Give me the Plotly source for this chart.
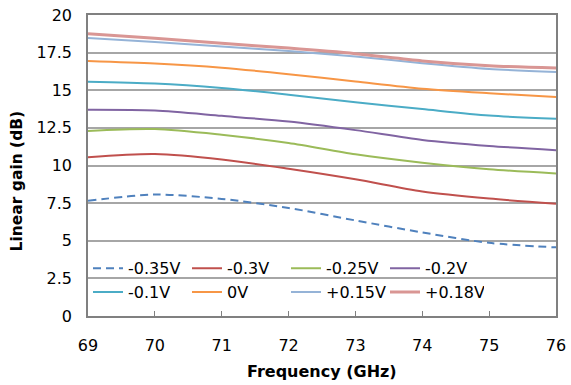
import plotly.graph_objects as go

freq = [69, 70, 71, 72, 73, 74, 75, 76]

g_m035 = [7.65, 8.07, 7.78, 7.18, 6.35, 5.55, 4.86, 4.56]
g_m030 = [10.55, 10.76, 10.40, 9.78, 9.08, 8.27, 7.80, 7.46]
g_m025 = [12.30, 12.42, 12.04, 11.50, 10.75, 10.19, 9.75, 9.47]
g_m020 = [13.70, 13.65, 13.30, 12.92, 12.35, 11.70, 11.30, 11.02]
g_m010 = [15.57, 15.45, 15.15, 14.70, 14.20, 13.75, 13.32, 13.10]
g_0 = [16.95, 16.78, 16.50, 16.07, 15.58, 15.10, 14.80, 14.55]
g_p015 = [18.47, 18.20, 17.90, 17.60, 17.25, 16.80, 16.42, 16.22]
g_p018 = [18.75, 18.45, 18.12, 17.80, 17.43, 16.95, 16.63, 16.48]

names = ["-0.35V", "-0.3V", "-0.25V", "-0.2V", "-0.1V", "0V", "+0.15V", "+0.18V"]
series = [g_m035, g_m030, g_m025, g_m020, g_m010, g_0, g_p015, g_p018]
colors = ["#4F81BD", "#C0504D", "#9BBB59", "#8064A2", "#4BACC6", "#F79646", "#95B3D7", "#D99694"]
widths = [2, 2, 2, 2, 2, 2, 2, 3]
dashes = ["8px,5px", "solid", "solid", "solid", "solid", "solid", "solid", "solid"]

y_ticks = [0, 2.5, 5, 7.5, 10, 12.5, 15, 17.5, 20]
y_ticktext = ["0", "2.5", "5", "7.5", "10", "12.5", "15", "17.5", "20"]
x_ticks = [69, 70, 71, 72, 73, 74, 75, 76]
x_ticktext = ["69", "70", "71", "72", "73", "74", "75", "76"]

FONT = "DejaVu Sans"

fig = go.Figure()
for name, ys, c, w, d in zip(names, series, colors, widths, dashes):
    fig.add_trace(go.Scatter(
        x=freq, y=ys, name=name, mode="lines",
        line=dict(color=c, width=w, dash=d, shape="spline", smoothing=0.8),
    ))

fig.update_layout(
    width=571, height=385,
    margin=dict(l=88, r=15, t=15, b=69, autoexpand=False),
    paper_bgcolor="white", plot_bgcolor="white",
    font=dict(family=FONT, size=16, color="black"),
    showlegend=True,
    legend=dict(
        orientation="h", x=0.0, y=0.215, xanchor="left", yanchor="top",
        entrywidth=54, entrywidthmode="pixels",
        font=dict(family=FONT, size=16, color="black"),
        bgcolor="rgba(0,0,0,0)", itemwidth=30, tracegroupgap=0,
    ),
    xaxis=dict(
        range=[69, 76], tickvals=x_ticks, ticktext=x_ticktext,
        ticks="inside", ticklen=5, tickcolor="#808080",
        showline=True, linecolor="#808080", linewidth=1.5, mirror=True,
        showgrid=False, zeroline=False, ticklabelstandoff=14,
        tickfont=dict(family=FONT, size=16), automargin=False,
    ),
    yaxis=dict(
        range=[0, 20], tickvals=y_ticks, ticktext=y_ticktext,
        ticks="", showline=True, linecolor="#808080", linewidth=1.5, mirror=True,
        showgrid=True, gridcolor="#a6a6a6", gridwidth=1.5, zeroline=False,
        ticklabelstandoff=11, tickfont=dict(family=FONT, size=16), automargin=False,
    ),
)

fig.add_annotation(
    text="<b>Frequency (GHz)</b>", xref="paper", yref="paper",
    x=0.5, y=-0.185, xanchor="center", yanchor="middle", showarrow=False,
    font=dict(family=FONT, size=16, color="black"),
)
fig.add_annotation(
    text="<b>Linear gain (dB)</b>", xref="paper", yref="paper",
    x=-0.152, y=0.45, xanchor="center", yanchor="middle", showarrow=False,
    textangle=-90, font=dict(family=FONT, size=15.5, color="black"),
)

fig.write_html(
    "out.html",
    config={"displayModeBar": False},
    post_script="document.body.style.margin='0';",
)
